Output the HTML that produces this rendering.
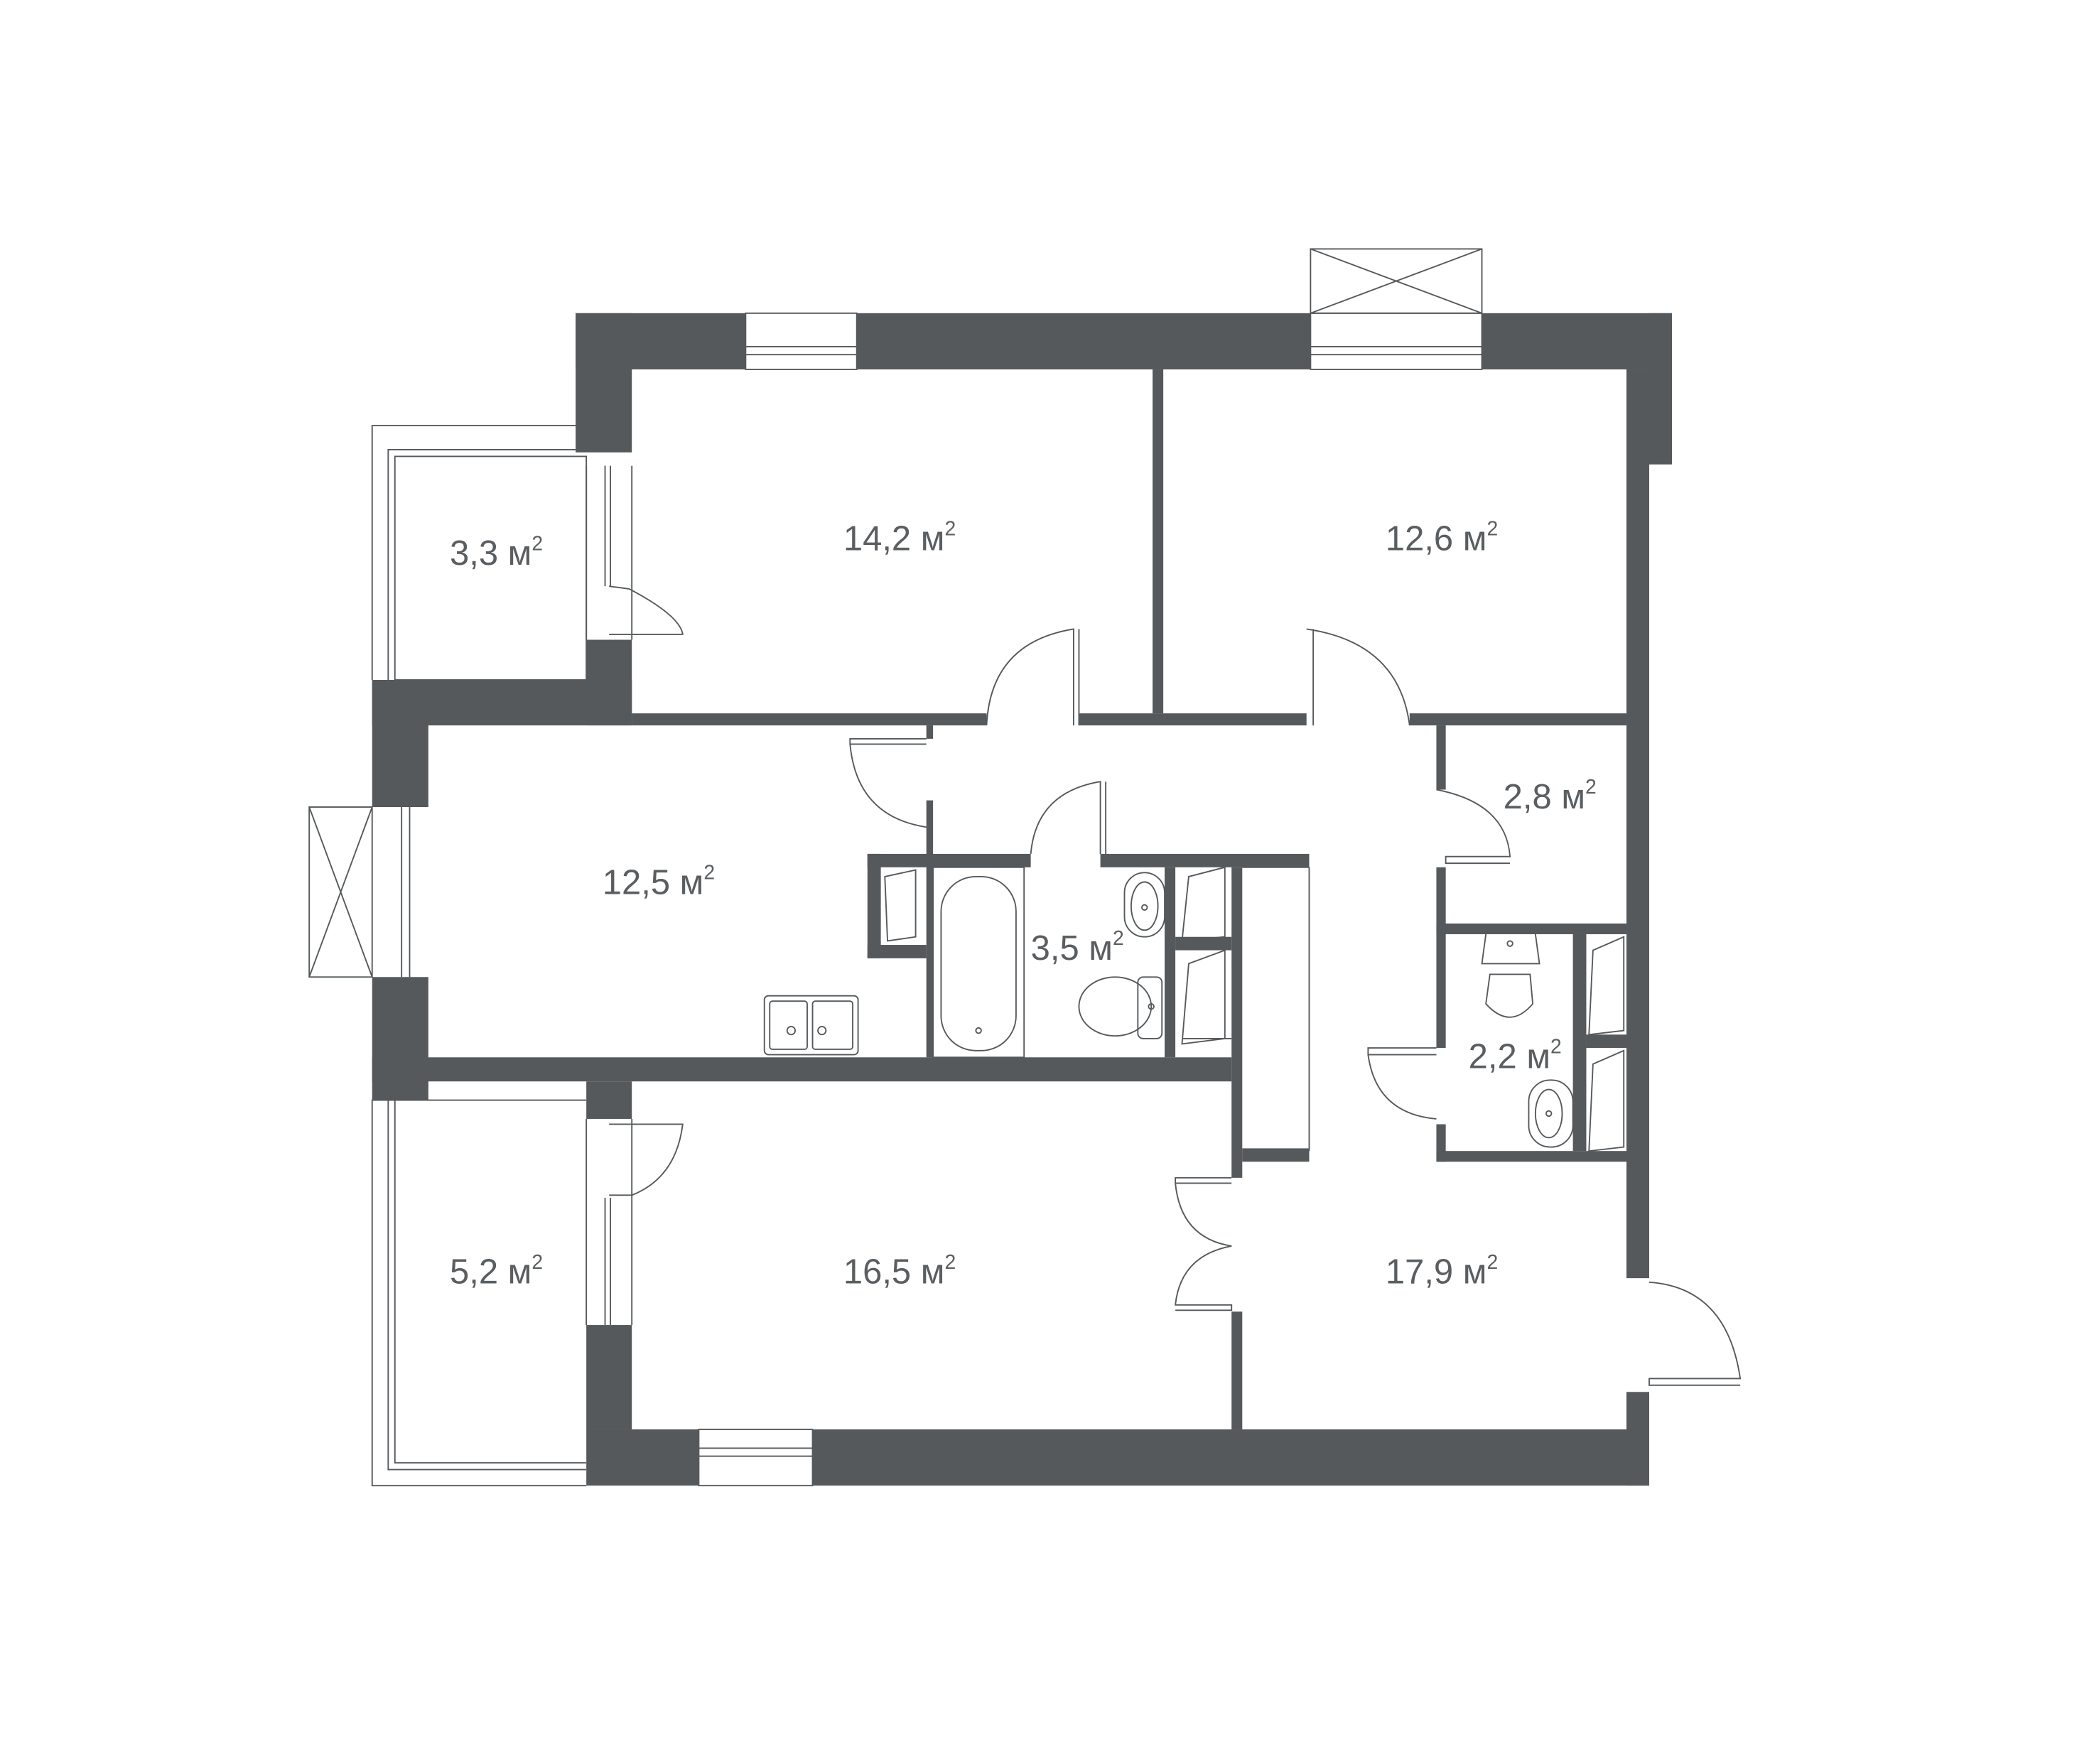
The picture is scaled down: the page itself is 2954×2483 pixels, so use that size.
<!DOCTYPE html>
<html><head><meta charset="utf-8"><style>
html,body{margin:0;padding:0;background:#fff;width:2954px;height:2483px;overflow:hidden}
svg{display:block}
text{font-family:"Liberation Sans",sans-serif;fill:#5a5e61;font-size:26px;font-weight:300}
</style></head><body>
<svg width="2954" height="2483" viewBox="0 0 1568 1318" preserveAspectRatio="none" xmlns="http://www.w3.org/2000/svg">
<g fill="#55595c">
<rect x="430" y="234" width="819" height="42"/>
<rect x="1232" y="234" width="17" height="113"/>
<rect x="1215" y="276" width="17" height="679"/>
<rect x="1215" y="1040" width="17" height="70"/>
<rect x="438" y="1068" width="794" height="42"/>
<rect x="430" y="234" width="42" height="104"/>
<rect x="438" y="478" width="34" height="64"/>
<rect x="278" y="508" width="194" height="34"/>
<rect x="278" y="508" width="42" height="95"/>
<rect x="278" y="730" width="42" height="92"/>
<rect x="278" y="790" width="642" height="18"/>
<rect x="438" y="808" width="34" height="28"/>
<rect x="438" y="990" width="34" height="78"/>
<rect x="861" y="276" width="8" height="257"/>
<rect x="472" y="533" width="265" height="9"/>
<rect x="806" y="533" width="170" height="9"/>
<rect x="1053" y="533" width="162" height="9"/>
<rect x="692" y="542" width="5" height="10"/>
<rect x="692" y="598" width="5" height="192"/>
<rect x="648" y="638" width="122" height="10"/>
<rect x="822" y="638" width="156" height="10"/>
<rect x="648" y="638" width="10" height="78"/>
<rect x="648" y="706" width="44" height="10"/>
<rect x="870" y="648" width="8" height="142"/>
<rect x="920" y="648" width="8" height="232"/>
<rect x="920" y="980" width="8" height="88"/>
<rect x="878" y="700" width="42" height="10"/>
<rect x="928" y="858" width="50" height="10"/>
<rect x="1073" y="542" width="7" height="48"/>
<rect x="1073" y="648" width="7" height="135"/>
<rect x="1073" y="840" width="7" height="28"/>
<rect x="1073" y="690" width="142" height="8"/>
<rect x="1073" y="860" width="142" height="8"/>
<rect x="1175" y="698" width="10" height="162"/>
<rect x="1185" y="773" width="30" height="10"/>
</g>
<g fill="none" stroke="#55595c" stroke-width="1">
<rect x="557" y="234" width="83" height="42" fill="#fff"/>
<line x1="557" y1="259" x2="640" y2="259"/><line x1="557" y1="265" x2="640" y2="265"/>
<rect x="979" y="234" width="128" height="42" fill="#fff"/>
<line x1="979" y1="259" x2="1107" y2="259"/><line x1="979" y1="265" x2="1107" y2="265"/>
<rect x="979" y="186" width="128" height="48"/>
<line x1="979" y1="186" x2="1107" y2="234"/><line x1="1107" y1="186" x2="979" y2="234"/>
<rect x="522" y="1068" width="85" height="42" fill="#fff"/>
<line x1="522" y1="1082" x2="607" y2="1082"/><line x1="522" y1="1088" x2="607" y2="1088"/>
<rect x="231" y="603" width="47" height="127"/>
<line x1="231" y1="603" x2="278" y2="730"/><line x1="278" y1="603" x2="231" y2="730"/>
<line x1="300" y1="603" x2="300" y2="730"/><line x1="306" y1="603" x2="306" y2="730"/>
<polyline points="430,318 278,318 278,508"/>
<polyline points="430,336 290,336 290,508"/>
<rect x="295" y="341" width="143" height="167"/>
<polyline points="438,822 278,822 278,1110 438,1110"/>
<polyline points="290,822 290,1098 438,1098"/>
<polyline points="295,822 295,1093 438,1093"/>
<line x1="438" y1="348" x2="438" y2="478"/><line x1="472" y1="348" x2="472" y2="478"/>
<line x1="452" y1="348" x2="452" y2="438"/><line x1="456" y1="348" x2="456" y2="438"/>
<path d="M455 438 L470 440 Q508 460 510 474 L455 474"/>
<line x1="438" y1="836" x2="438" y2="990"/><line x1="472" y1="836" x2="472" y2="990"/>
<line x1="452" y1="895" x2="452" y2="990"/><line x1="456" y1="895" x2="456" y2="990"/>
<path d="M455 840 L510 840 Q505 880 472 893 L455 893"/>
<path d="M737 542 Q740 480 802 470 L802 542 M806 470 L806 542"/>
<path d="M976 470 Q1045 480 1053 542 M981 470 L981 542"/>
<path d="M692 552 L635 552 L635 556 L692 556 M635 556 Q640 610 692 618"/>
<path d="M770 638 Q774 592 822 584 L822 638 M826 584 L826 638"/>
<path d="M1073 590 Q1125 600 1128 640 L1080 640 L1080 645 L1128 645"/>
<path d="M1073 783 L1022 783 L1022 788 L1073 788 M1022 788 Q1028 832 1073 836"/>
<path d="M920 880 L878 880 L878 884 L920 884 M878 884 Q882 925 920 931 Q882 938 878 975 L920 975 L920 979 L878 979"/>
<path d="M1232 958 Q1290 962 1300 1030 L1232 1030 L1232 1035 L1300 1035"/>
<polygon points="661,655 684,650 684,700 663,703"/>
<polygon points="888,655 915,648 915,700 883,703"/>
<polygon points="888,720 915,710 915,776 883,780"/>
<line x1="883" y1="776" x2="920" y2="776"/>
<polygon points="1190,710 1213,700 1213,770 1187,773"/>
<polygon points="1190,795 1213,785 1213,857 1187,860"/>
<rect x="697" y="648" width="68" height="142"/>
<rect x="703" y="655" width="56" height="130" rx="26"/>
<circle cx="731" cy="770" r="2"/>
<rect x="840" y="652" width="30" height="48" rx="15"/>
<ellipse cx="855" cy="677" rx="10" ry="18"/>
<circle cx="855" cy="678" r="2"/>
<ellipse cx="833" cy="752" rx="27" ry="22"/>
<rect x="850" y="730" width="18" height="46" rx="4"/>
<circle cx="860" cy="752" r="2"/>
<path d="M1110 698 L1107 720 L1150 720 L1147 698 M1113 728 L1110 750 Q1128 770 1145 750 L1143 728 Z"/>
<circle cx="1128" cy="705" r="2"/>
<rect x="1142" y="807" width="33" height="50" rx="16"/>
<ellipse cx="1157" cy="832" rx="10" ry="18"/>
<circle cx="1157" cy="832" r="2"/>
<rect x="571" y="744" width="70" height="44" rx="3"/>
<rect x="575" y="748" width="28" height="36" rx="2"/>
<rect x="607" y="748" width="30" height="36" rx="2"/>
<circle cx="591" cy="770" r="3"/><circle cx="614" cy="770" r="3"/>
<line x1="928" y1="648" x2="978" y2="648"/><line x1="978" y1="648" x2="978" y2="860"/>
</g>
<text x="336" y="422">3,3 м<tspan dy="-11" font-size="15">2</tspan></text>
<text x="630" y="411">14,2 м<tspan dy="-11" font-size="15">2</tspan></text>
<text x="1035" y="411">12,6 м<tspan dy="-11" font-size="15">2</tspan></text>
<text x="450" y="668">12,5 м<tspan dy="-11" font-size="15">2</tspan></text>
<text x="770" y="717">3,5 м<tspan dy="-11" font-size="15">2</tspan></text>
<text x="1123" y="604">2,8 м<tspan dy="-11" font-size="15">2</tspan></text>
<text x="1097" y="798">2,2 м<tspan dy="-11" font-size="15">2</tspan></text>
<text x="336" y="959">5,2 м<tspan dy="-11" font-size="15">2</tspan></text>
<text x="630" y="959">16,5 м<tspan dy="-11" font-size="15">2</tspan></text>
<text x="1035" y="959">17,9 м<tspan dy="-11" font-size="15">2</tspan></text>
</svg>
</body></html>
